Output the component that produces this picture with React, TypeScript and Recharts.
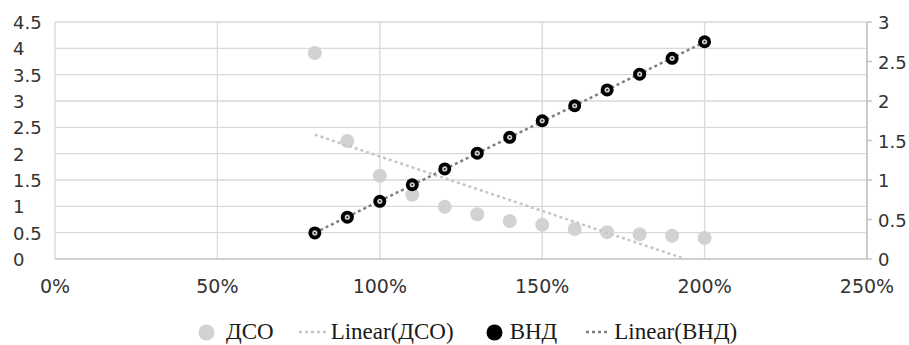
import React from 'react';
import { ComposedChart, Scatter, XAxis, YAxis, CartesianGrid, Legend } from 'recharts';

const loadLevels = [0.8, 0.9, 1.0, 1.1, 1.2, 1.3, 1.4, 1.5, 1.6, 1.7, 1.8, 1.9, 2.0];
const dsoValues = [3.91, 2.24, 1.58, 1.22, 0.99, 0.85, 0.72, 0.65, 0.57, 0.51, 0.47, 0.44, 0.4];
const vndValues = [0.33, 0.53, 0.73, 0.94, 1.14, 1.34, 1.54, 1.75, 1.94, 2.14, 2.34, 2.54, 2.75];
const xTicks = [0, 0.5, 1, 1.5, 2, 2.5];
const leftTicks = [0, 0.5, 1, 1.5, 2, 2.5, 3, 3.5, 4, 4.5];
const rightTicks = [0, 0.5, 1, 1.5, 2, 2.5, 3];
const seriesNames = ['ДСО', 'Linear(ДСО)', 'ВНД', 'Linear(ВНД)'];

const AXIS_FONT = '"DejaVu Sans", sans-serif';
const LEGEND_FONT = '"Liberation Serif", serif';
const TEXT_COLOR = '#333333';
const DSO_COLOR = '#d2d2d2';
const DSO_TREND = '#c6c6c6';
const VND_TREND = '#7f7f7f';

function linearFit(xs: number[], ys: number[]) {
  const n = xs.length;
  const mx = xs.reduce((a, b) => a + b, 0) / n;
  const my = ys.reduce((a, b) => a + b, 0) / n;
  let sxy = 0;
  let sxx = 0;
  for (let i = 0; i < n; i++) {
    sxy += (xs[i] - mx) * (ys[i] - my);
    sxx += (xs[i] - mx) * (xs[i] - mx);
  }
  const slope = sxy / sxx;
  const icpt = my - slope * mx;
  const x0 = xs[0];
  const x1 = xs[n - 1];
  return [
    { x: x0, y: icpt + slope * x0 },
    { x: x1, y: icpt + slope * x1 },
  ];
}

const dsoData = loadLevels.map((x, i) => ({ x, y: dsoValues[i] }));
const vndData = loadLevels.map((x, i) => ({ x, y: vndValues[i] }));
const dsoTrend = linearFit(loadLevels, dsoValues);
const vndTrend = linearFit(loadLevels, vndValues);

const fmtNum = (v: number) => String(v);
const fmtPct = (v: number) => `${Math.round(v * 100)}%`;

const XTick = (props: any) => {
  const { x, y, payload } = props;
  return (
    <text x={x} y={y + 26} textAnchor="middle" fontFamily={AXIS_FONT} fontSize={19} fill={TEXT_COLOR}>
      {fmtPct(payload.value)}
    </text>
  );
};

const LeftTick = (props: any) => {
  const { y, payload } = props;
  return (
    <text x={13} y={y + 7} textAnchor="start" fontFamily={AXIS_FONT} fontSize={18} fill={TEXT_COLOR}>
      {fmtNum(payload.value)}
    </text>
  );
};

const RightTick = (props: any) => {
  const { y, payload } = props;
  return (
    <text x={878} y={y + 7} textAnchor="start" fontFamily={AXIS_FONT} fontSize={18} fill={TEXT_COLOR}>
      {fmtNum(payload.value)}
    </text>
  );
};

const DsoDot = (props: any) => {
  const { cx, cy } = props;
  if (cx == null || cy == null) return <g />;
  return <circle cx={cx} cy={cy} r={7} fill={DSO_COLOR} />;
};

const VndDot = (props: any) => {
  const { cx, cy } = props;
  if (cx == null || cy == null) return <g />;
  return (
    <g>
      <circle cx={cx} cy={cy} r={6.5} fill="#000" />
      <circle cx={cx} cy={cy} r={2.6} fill="#cfcfcf" />
      <circle cx={cx} cy={cy} r={1} fill="#222" />
    </g>
  );
};

const NoDot = () => <g />;

const LegendContent = () => {
  const textStyle: React.CSSProperties = {
    fontFamily: LEGEND_FONT,
    fontSize: 23,
    lineHeight: '26px',
    color: '#1a1a1a',
    whiteSpace: 'nowrap',
  };
  const dotted = (color: string, len: number, gap: number) => (
    <svg width={len} height={6} style={{ marginRight: gap }}>
      <line x1={0} y1={3} x2={len} y2={3} stroke={color} strokeWidth={2.5} strokeDasharray="3 3" />
    </svg>
  );
  const circle = (color: string, gap: number) => (
    <svg width={17} height={17} style={{ marginRight: gap }}>
      <circle cx={8.5} cy={8.5} r={8} fill={color} />
    </svg>
  );
  return (
    <div
      style={{
        height: 26,
        display: 'flex',
        alignItems: 'center',
        justifyContent: 'flex-start',
        paddingLeft: 198,
        boxSizing: 'border-box',
        width: 909,
      }}
    >
      <div style={{ display: 'flex', alignItems: 'center', marginRight: 25 }}>
        {circle(DSO_COLOR, 11)}
        <span style={textStyle}>{seriesNames[0]}</span>
      </div>
      <div style={{ display: 'flex', alignItems: 'center', marginRight: 32 }}>
        {dotted(DSO_TREND, 27, 5)}
        <span style={textStyle}>{seriesNames[1]}</span>
      </div>
      <div style={{ display: 'flex', alignItems: 'center', marginRight: 29 }}>
        {circle('#000', 7)}
        <span style={textStyle}>{seriesNames[2]}</span>
      </div>
      <div style={{ display: 'flex', alignItems: 'center' }}>
        {dotted(VND_TREND, 24, 4)}
        <span style={textStyle}>{seriesNames[3]}</span>
      </div>
    </div>
  );
};

export default function App() {
  return (
    <div style={{ position: 'absolute', left: 0, top: 0, width: 909, height: 345, background: '#fff' }}>
      <ComposedChart width={909} height={345} margin={{ top: 22, right: 0, bottom: 0, left: 0 }}>
        <CartesianGrid yAxisId="left" stroke="#d9d9d9" strokeWidth={1.3} />
        <XAxis
          type="number"
          dataKey="x"
          domain={[0, 2.5]}
          ticks={xTicks}
          height={60}
          tickLine={false}
          axisLine={{ stroke: '#c8c8c8', strokeWidth: 1.3 }}
          tick={<XTick />}
          interval={0}
        />
        <YAxis
          yAxisId="left"
          type="number"
          dataKey="y"
          domain={[0, 4.5]}
          ticks={leftTicks}
          width={55}
          axisLine={false}
          tickLine={false}
          allowDataOverflow
          tick={<LeftTick />}
          interval={0}
        />
        <YAxis
          yAxisId="right"
          orientation="right"
          type="number"
          dataKey="y"
          domain={[0, 3]}
          ticks={rightTicks}
          width={42}
          axisLine={{ stroke: '#bfbfbf', strokeWidth: 1.3 }}
          tickLine={{ stroke: '#bfbfbf', strokeWidth: 1.3 }}
          tickSize={5}
          allowDataOverflow
          tick={<RightTick />}
          interval={0}
        />
        <Scatter
          name={seriesNames[0]}
          yAxisId="left"
          data={dsoData}
          shape={<DsoDot />}
          isAnimationActive={false}
        />
        <Scatter
          name={seriesNames[1]}
          yAxisId="left"
          data={dsoTrend}
          shape={<NoDot />}
          line={{ stroke: DSO_TREND, strokeWidth: 2.5, strokeDasharray: '3 3' }}
          lineType="joint"
          isAnimationActive={false}
        />
        <Scatter
          name={seriesNames[3]}
          yAxisId="right"
          data={vndTrend}
          shape={<NoDot />}
          line={{ stroke: VND_TREND, strokeWidth: 2.5, strokeDasharray: '3 3' }}
          lineType="joint"
          isAnimationActive={false}
        />
        <Scatter
          name={seriesNames[2]}
          yAxisId="right"
          data={vndData}
          shape={<VndDot />}
          isAnimationActive={false}
        />
        <Legend verticalAlign="bottom" content={<LegendContent />} />
      </ComposedChart>
    </div>
  );
}
